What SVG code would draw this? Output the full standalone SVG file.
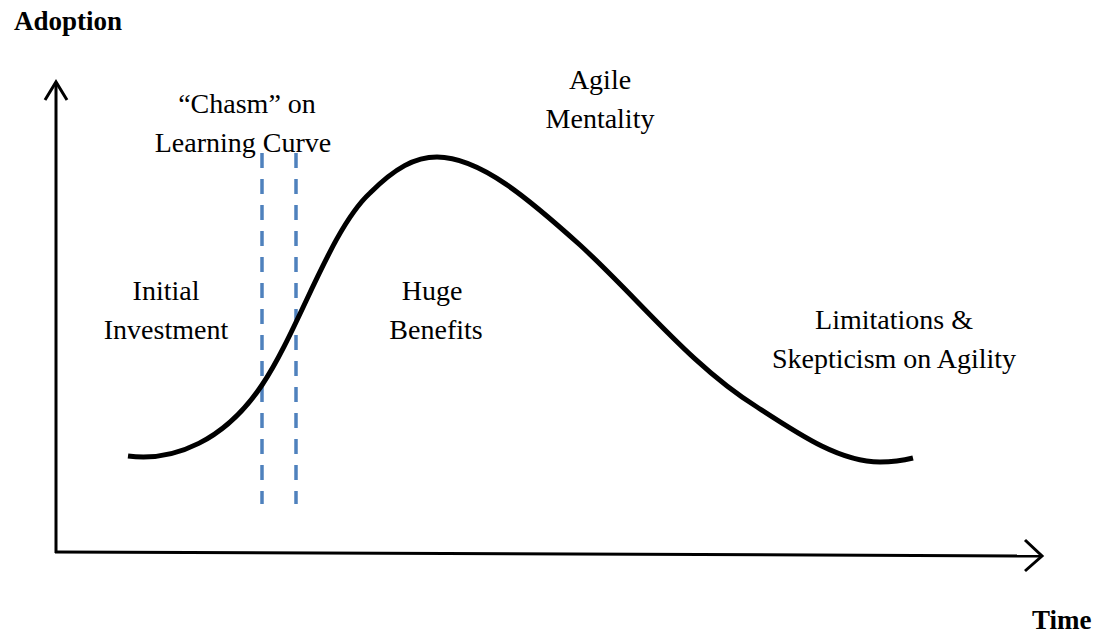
<svg xmlns="http://www.w3.org/2000/svg" width="1099" height="633" viewBox="0 0 1099 633">
<style>
text{font-family:"Liberation Serif","Times New Roman",serif;font-size:28px;fill:#000;text-anchor:middle}
.b{font-weight:bold;font-size:27px;text-anchor:start}
.axis{fill:none;stroke:#000;stroke-width:3}
.dash{stroke:#4F81BD;stroke-width:3.5;stroke-dasharray:15 11;fill:none}
.curve{fill:none;stroke:#000;stroke-width:5;stroke-linecap:butt}
</style>
<rect width="1099" height="633" fill="#fff"/>
<g id="axes">
<path class="axis" d="M56,553 L56,82"/>
<path class="axis" d="M45,100 L56,82 L67,100"/>
<path class="axis" d="M55,552 L1042,556"/>
<path class="axis" d="M1025,540 L1042,556 L1025,571"/>
</g>
<g id="chasm-lines">
<path class="dash" d="M262,153 L262,504"/>
<path class="dash" d="M296,153 L296,504"/>
</g>
<g id="curve">
<path class="curve" d="M128,456 C175,462 225,440 262,385 S330,230 370,193 C395,168 415,157 437,157 C480,157 530,200 580,245 C640,300 690,365 757,407 C800,435 840,462 880,462 C895,462 905,460 913,458"/>
</g>
<g id="label-adoption"><text class="b" x="14" y="30">Adoption</text></g>
<g id="label-time"><text class="b" x="1032" y="629">Time</text></g>
<g id="label-chasm"><text x="247" y="113">“Chasm” on</text><text x="243" y="152">Learning Curve</text></g>
<g id="label-agile"><text x="600" y="89">Agile</text><text x="600" y="128">Mentality</text></g>
<g id="label-initial"><text x="166" y="300">Initial</text><text x="166" y="339">Investment</text></g>
<g id="label-huge"><text x="432" y="300">Huge</text><text x="436" y="339">Benefits</text></g>
<g id="label-limitations"><text x="894" y="329">Limitations &amp;</text><text x="894" y="368">Skepticism on Agility</text></g>
</svg>
